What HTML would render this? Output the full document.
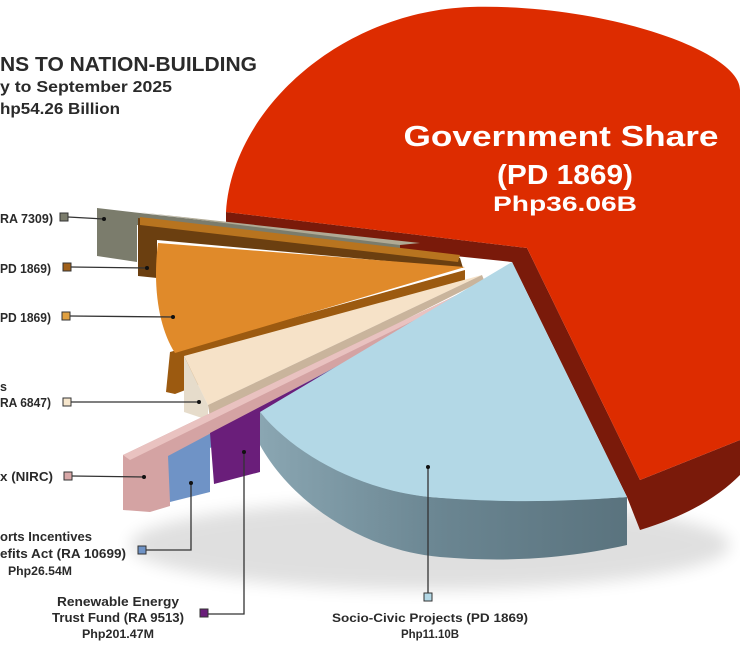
<!DOCTYPE html>
<html><head><meta charset="utf-8"><style>
body{margin:0;background:#fff;width:740px;height:662px;overflow:hidden}
svg{display:block}
text{font-family:"Liberation Sans",sans-serif;font-weight:bold;fill:#2a2a2a}
</style></head><body>
<svg width="740" height="662" viewBox="0 0 740 662">
<defs>
<filter id="sh" x="-20%" y="-20%" width="140%" height="140%"><feGaussianBlur stdDeviation="8"/></filter>
<linearGradient id="lbs" x1="0" x2="1" y1="0" y2="0">
<stop offset="0" stop-color="#8aa6b2"/><stop offset="0.5" stop-color="#6a8591"/><stop offset="1" stop-color="#5a737e"/>
</linearGradient>
</defs>
<ellipse cx="430" cy="545" rx="300" ry="45" fill="#000" opacity="0.12" filter="url(#sh)"/>

<!-- RED slice -->
<path d="M226,212 L527,248 L640,480 L740,440 L740,475 C720,495 690,515 640,530 L627,497 L512,262 L226,232 Z" fill="#7a1a0a"/>
<path d="M226,212 C232,110 340,12 470,7 C600,3 740,50 740,90 L740,440 L640,480 L527,248 Z" fill="#dd2c00"/>

<!-- Grey slice -->
<path d="M97,208 L400,243 L400,250 L137,225 L137,262 L97,256 Z" fill="#7b7c6c"/>
<path d="M97,207 L137,212 L420,243 L400,245 Z" fill="#b0aa95"/>
<!-- Dark brown slice -->
<path d="M138,218 L460,258 L463,268 L157,240 L157,278 L138,276 Z" fill="#6b3f10"/>
<path d="M140,217 L460,255 L458,262 L140,225 Z" fill="#b8741f"/>
<!-- Orange slice -->
<path d="M170,352 L465,270 L465,282 L175,394 L166,392 Z" fill="#9c5a10"/>
<path d="M158,243 L465,267 L175,353 C160,330 152,290 158,243 Z" fill="#e08a2a"/>
<!-- Cream slice -->
<path d="M184,356 L482,275 L208,405 Z" fill="#f6e2c8"/>
<path d="M184,356 L208,405 L208,420 L184,412 Z" fill="#e6dccb"/>
<path d="M208,405 L482,275 L484,280 L210,418 Z" fill="#c9b49c"/>
<!-- Pink slice -->
<path d="M123,455 L484,282 L488,288 L170,462 L170,506 L150,512 L123,510 Z" fill="#d4a3a3"/>
<path d="M123,455 L484,282 L486,285 L130,460 Z" fill="#e9c2c0"/>
<!-- Blue slice -->
<path d="M168,456 L486,287 L488,290 L210,448 L210,492 L170,502 Z" fill="#6f93c6"/>
<!-- Purple slice -->
<path d="M210,433 L488,288 L492,292 L260,420 L260,472 L214,484 Z" fill="#6a1e7a"/>

<!-- Light blue slice -->
<path d="M260,412 C300,460 370,490 430,497 C510,503 580,500 627,497 L627,545 C560,560 500,562 440,557 C360,550 290,500 260,445 Z" fill="url(#lbs)"/>
<path d="M512,262 L627,497 C560,502 500,503 430,497 C360,490 295,455 260,412 Z" fill="#b3d8e6"/>

<!-- leader lines -->
<g stroke="#333" stroke-width="1.3" fill="none">
<line x1="68" y1="217" x2="104" y2="219"/>
<line x1="71" y1="267" x2="147" y2="268"/>
<line x1="70" y1="316" x2="173" y2="317"/>
<line x1="71" y1="402" x2="199" y2="402"/>
<line x1="72" y1="476" x2="144" y2="477"/>
<polyline points="146,550 191,550 191,483"/>
<polyline points="208,614 244,614 244,452"/>
<line x1="428" y1="593" x2="428" y2="467"/>
</g>
<g fill="#111">
<circle cx="104" cy="219" r="2"/><circle cx="147" cy="268" r="2"/><circle cx="173" cy="317" r="2"/>
<circle cx="199" cy="402" r="2"/><circle cx="144" cy="477" r="2"/><circle cx="191" cy="483" r="2"/>
<circle cx="244" cy="452" r="2"/><circle cx="428" cy="467" r="2"/>
</g>
<g stroke="#333" stroke-width="1">
<rect x="60" y="213" width="8" height="8" fill="#7b7c6c"/>
<rect x="63" y="263" width="8" height="8" fill="#a0601a"/>
<rect x="62" y="312" width="8" height="8" fill="#e0a040"/>
<rect x="63" y="398" width="8" height="8" fill="#f6e6cc"/>
<rect x="64" y="472" width="8" height="8" fill="#d9a8a8"/>
<rect x="138" y="546" width="8" height="8" fill="#6f93c6"/>
<rect x="200" y="609" width="8" height="8" fill="#6a1e7a"/>
<rect x="424" y="593" width="8" height="8" fill="#b3d8e6"/>
</g>

<!-- titles -->
<text x="0" y="71" font-size="20" textLength="257" lengthAdjust="spacingAndGlyphs">NS TO NATION-BUILDING</text>
<text x="0" y="92" font-size="16" textLength="172" lengthAdjust="spacingAndGlyphs">y to September 2025</text>
<text x="0" y="114" font-size="16" textLength="120" lengthAdjust="spacingAndGlyphs">hp54.26 Billion</text>

<g font-size="12.5">
<text x="0" y="223" textLength="53" lengthAdjust="spacingAndGlyphs">RA 7309)</text>
<text x="0" y="273" textLength="51" lengthAdjust="spacingAndGlyphs">PD 1869)</text>
<text x="0" y="322" textLength="51" lengthAdjust="spacingAndGlyphs">PD 1869)</text>
<text x="0" y="391">s</text>
<text x="0" y="407" textLength="51" lengthAdjust="spacingAndGlyphs">RA 6847)</text>
<text x="0" y="481" textLength="53" lengthAdjust="spacingAndGlyphs">x (NIRC)</text>
<text x="0" y="541" textLength="92" lengthAdjust="spacingAndGlyphs">orts Incentives</text>
<text x="0" y="558" textLength="126" lengthAdjust="spacingAndGlyphs">efits Act (RA 10699)</text>
<text x="8" y="575" font-size="11.5" textLength="64" lengthAdjust="spacingAndGlyphs">Php26.54M</text>
<text x="118" y="606" text-anchor="middle" textLength="122" lengthAdjust="spacingAndGlyphs">Renewable Energy</text>
<text x="118" y="622" text-anchor="middle" textLength="132" lengthAdjust="spacingAndGlyphs">Trust Fund (RA 9513)</text>
<text x="118" y="638" text-anchor="middle" font-size="11.5" textLength="72" lengthAdjust="spacingAndGlyphs">Php201.47M</text>
<text x="430" y="622" text-anchor="middle" font-size="11.5" textLength="196" lengthAdjust="spacingAndGlyphs">Socio-Civic Projects (PD 1869)</text>
<text x="430" y="638" text-anchor="middle" font-size="11.5" textLength="58" lengthAdjust="spacingAndGlyphs">Php11.10B</text>
</g>
<g text-anchor="middle">
<text x="561" y="146" font-size="29" style="fill:#fff" textLength="315" lengthAdjust="spacingAndGlyphs">Government Share</text>
<text x="565" y="184" font-size="28" style="fill:#fff" textLength="136" lengthAdjust="spacingAndGlyphs">(PD 1869)</text>
<text x="565" y="211" font-size="21" style="fill:#fff" textLength="144" lengthAdjust="spacingAndGlyphs">Php36.06B</text>
</g>
</svg>
</body></html>
